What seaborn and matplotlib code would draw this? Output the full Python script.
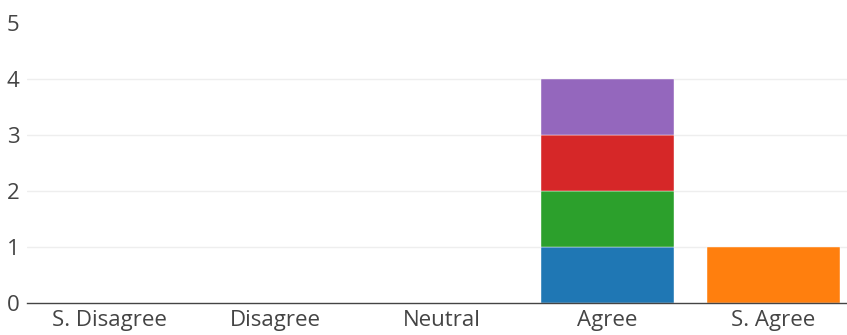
import numpy as np
import pandas as pd
import matplotlib
matplotlib.use("Agg")
import matplotlib.pyplot as plt
import seaborn as sns

categories = ["S. Disagree", "Disagree", "Neutral", "Agree", "S. Agree"]
series_names = ["Response 1", "Response 2", "Response 3", "Response 4", "Response 5"]
series_values = [
    [0, 0, 0, 1, 0],
    [0, 0, 0, 0, 1],
    [0, 0, 0, 1, 0],
    [0, 0, 0, 1, 0],
    [0, 0, 0, 1, 0],
]
series_colors = ["#1f77b4", "#ff7f0e", "#2ca02c", "#d62728", "#9467bd"]
y_ticks = [0, 1, 2, 3, 4, 5]

sns.set_theme(style="white")
plt.rcParams["font.family"] = ["Open Sans", "DejaVu Sans"]

fig = plt.figure(figsize=(8.47, 3.35), dpi=100)
ax = fig.add_axes([26.5 / 847, 32 / 335, 830 / 847, 280 / 335])

bottom = np.zeros(len(categories))
for name, vals, color in zip(series_names, series_values, series_colors):
    vals = np.asarray(vals, dtype=float)
    df = pd.DataFrame({"category": categories, "value": vals, "base": bottom.copy()})
    df = df[df["value"] > 0]
    if len(df):
        sns.barplot(data=df, x="category", y="value", order=categories,
                    color=color, saturation=1, width=0.8, bottom=df["base"].to_numpy(),
                    edgecolor="white", linewidth=0.3, ax=ax, zorder=3)
    bottom += vals

ax.set_xlim(-0.5, len(categories) - 0.5)
ax.set_ylim(0, 5)
ax.set_yticks(y_ticks)
ax.set_xticks(range(len(categories)))
ax.set_xticklabels(categories)
ax.set_xlabel("")
ax.set_ylabel("")

for s in ["top", "right", "left"]:
    ax.spines[s].set_visible(False)
ax.spines["bottom"].set_color("#444444")
ax.spines["bottom"].set_linewidth(1)
ax.spines["bottom"].set_zorder(4)

ax.yaxis.grid(True, color="#eeeeee", linewidth=1)
ax.set_axisbelow(True)
ax.get_ygridlines()[0].set_visible(False)
ax.get_ygridlines()[-1].set_visible(False)

ax.tick_params(axis="both", length=0, labelsize=16, colors="#444444")
ax.tick_params(axis="x", pad=5)
ax.tick_params(axis="y", pad=5)

fig.savefig("out.png", dpi=100, facecolor="white")
